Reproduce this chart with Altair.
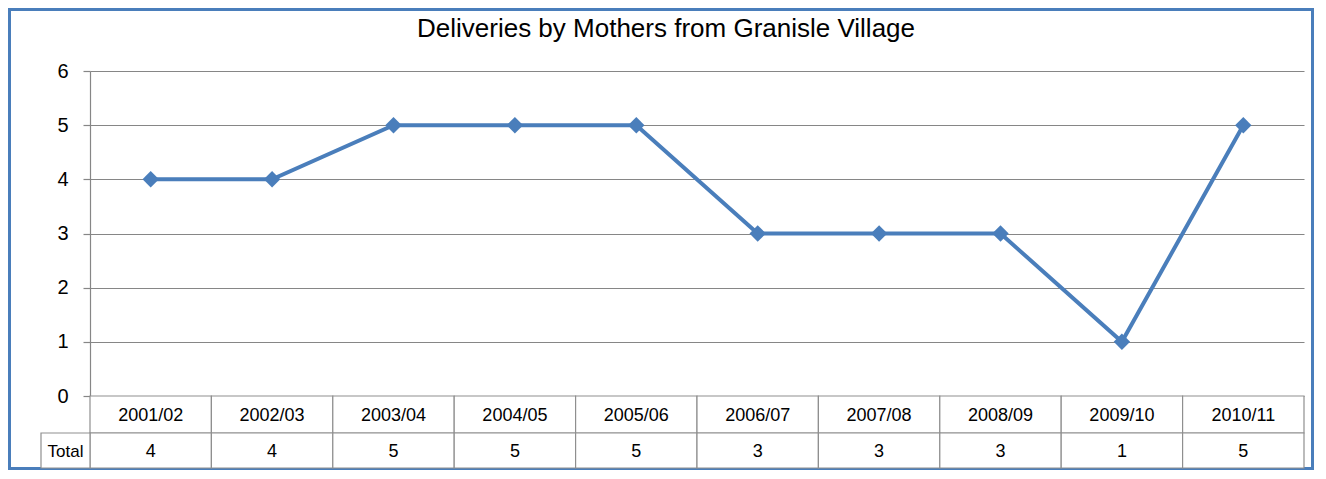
import altair as alt
import pandas as pd

# ---- data ----
categories = ["2001/02", "2002/03", "2003/04", "2004/05", "2005/06",
              "2006/07", "2007/08", "2008/09", "2009/10", "2010/11"]
totals = [4, 4, 5, 5, 5, 3, 3, 3, 1, 5]
y_ticks = [0, 1, 2, 3, 4, 5, 6]
chart_title = "Deliveries by Mothers from Granisle Village"
row_label = "Total"

df = pd.DataFrame({"period": categories, "total": totals})
one = alt.Data(values=[{"label": row_label, "title": chart_title}])

# ---- layout ----
W, H = 1214, 325
ROW1, ROW2 = 37, 35
LINE_COLOR = "#4a7ebb"
GRID = "#868686"
TABLE = "#8f8f8f"
FONT = "Liberation Sans"

x_scale = alt.Scale(type="band", domain=categories, paddingInner=0, paddingOuter=0)
y_scale = alt.Scale(domain=[0, 6], nice=False, zero=True)


def X(**kw):
    return alt.X("period:N", scale=x_scale, axis=None, sort=categories, **kw)


base = alt.Chart(df)

line = base.mark_line(color=LINE_COLOR, strokeWidth=4).encode(
    x=X(bandPosition=0.5),
    y=alt.Y("total:Q", scale=y_scale,
            axis=alt.Axis(values=y_ticks, grid=True, gridColor=GRID, gridWidth=1.2,
                          domainColor=GRID, domainWidth=1.2, tickColor=GRID, tickWidth=1.2,
                          tickSize=7, labelPadding=15, labelFontSize=20, labelFont=FONT,
                          labelColor="#000000", title=None, format="d")),
)
points = base.mark_point(shape="diamond", filled=True, size=270, opacity=1,
                         color=LINE_COLOR).encode(
    x=X(bandPosition=0.5), y=alt.Y("total:Q", scale=y_scale))

head_cells = base.mark_rect(fill="white", stroke=TABLE, strokeWidth=1.2).encode(
    x=X(), y=alt.value(H), y2=alt.value(H + ROW1))
val_cells = base.mark_rect(fill="white", stroke=TABLE, strokeWidth=1.2).encode(
    x=X(), y=alt.value(H + ROW1), y2=alt.value(H + ROW1 + ROW2))
head_text = base.mark_text(font=FONT, fontSize=18, color="#000000", baseline="middle").encode(
    x=X(bandPosition=0.5), y=alt.value(H + ROW1 / 2 + 1), text="period:N")
val_text = base.mark_text(font=FONT, fontSize=18, color="#000000", baseline="middle").encode(
    x=X(bandPosition=0.5), y=alt.value(H + ROW1 + ROW2 / 2 + 1), text="total:Q")

label_cell = alt.Chart(one).mark_rect(fill="white", stroke=TABLE, strokeWidth=1.2).encode(
    x=alt.value(-49), x2=alt.value(0), y=alt.value(H + ROW1), y2=alt.value(H + ROW1 + ROW2))
label_text = alt.Chart(one).mark_text(font=FONT, fontSize=17, color="#000000",
                                      baseline="middle", align="center").encode(
    x=alt.value(-24.5), y=alt.value(H + ROW1 + ROW2 / 2 + 1), text="label:N")

title_text = alt.Chart(one).mark_text(font=FONT, fontSize=26, color="#000000",
                                      baseline="middle", align="center").encode(
    x=alt.value(576), y=alt.value(-42), text="title:N")

frame = alt.Chart(one).mark_rect(fill=None, stroke=LINE_COLOR, strokeWidth=3).encode(
    x=alt.value(-80.5), x2=alt.value(1222.5), y=alt.value(-61.5), y2=alt.value(397.5))

chart = alt.layer(
    frame, line, head_cells, val_cells, label_cell, points,
    head_text, val_text, label_text, title_text,
).properties(
    width=W, height=H,
    autosize=alt.AutoSizeParams(type="none"),
    padding={"left": 82, "top": 63, "right": 10, "bottom": 74},
).configure_view(stroke=None)

chart.save("out.html", embed_options={"renderer": "svg", "actions": False})
